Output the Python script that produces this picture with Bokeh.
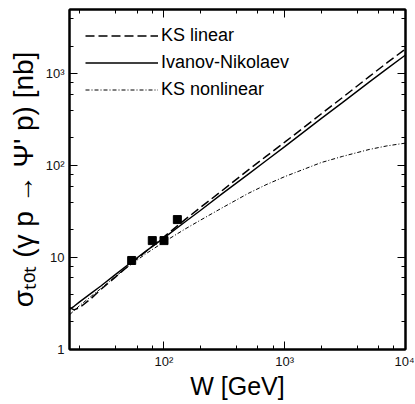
from bokeh.plotting import figure
from bokeh.models import LogAxis, Legend, LegendItem, Range1d, LogTicker, CustomJSTickFormatter
from bokeh.embed import file_html
from bokeh.resources import INLINE

# ---- data ----
W_curve = [16.6, 18, 20, 25, 30, 40, 50, 70, 100, 150, 200, 300, 500, 700,
           1000, 2000, 3000, 5000, 7000, 10000]
ks_linear = [2.85, 2.7, 2.85, 3.6, 4.5, 6.2, 8.0, 11.5, 16.8, 26, 35, 53, 90,
             126, 180, 365, 550, 930, 1310, 1860]
ivanov_nikolaev = [2.75, 2.95, 3.3, 4.1, 4.9, 6.6, 8.3, 11.6, 16.4, 24.5, 32.5,
                   49, 81, 113, 161, 325, 485, 810, 1130, 1600]
ks_nonlinear = [2.4, 2.65, 3.0, 3.8, 4.6, 6.3, 7.9, 10.9, 14.8, 20.5, 25.5,
                34.5, 50, 62, 76, 108, 126, 150, 164, 176]

W_data = [54, 80, 100, 129]
sigma_data = [9.3, 15.3, 15.3, 25.9]

x_ticks = [100, 1000, 10000]
x_tick_labels = ["10²", "10³", "10⁴"]
y_ticks = [1, 10, 100, 1000]
y_tick_labels = ["1", "10", "10²", "10³"]

series_names = ["KS linear", "Ivanov-Nikolaev", "KS nonlinear"]

FONT = "Liberation Sans"

p = figure(width=414, height=403, x_axis_type="log", y_axis_type="log",
           x_range=Range1d(16.5, 10000), y_range=Range1d(1, 5000),
           output_backend="svg", toolbar_location=None,
           min_border_left=69, min_border_right=9, min_border_top=9,
           min_border_bottom=54, background_fill_color="white",
           border_fill_color="white")
p.grid.visible = False
p.outline_line_color = "black"
p.outline_line_width = 2

r1 = p.line(W_curve, ks_linear, line_color="black", line_width=1.5, line_dash="9 4")
r2 = p.line(W_curve, ivanov_nikolaev, line_color="black", line_width=1.4)
r3 = p.line(W_curve, ks_nonlinear, line_color="black", line_width=1.0, line_dash="4 2 1 2")
p.scatter(W_data, sigma_data, marker="square", size=8, fill_color="black", line_color="black")

def style_axis(ax, show_labels=True):
    ax.axis_line_color = "black"
    ax.axis_line_width = 2
    ax.major_tick_in = 8
    ax.major_tick_out = 0
    ax.minor_tick_in = 4
    ax.minor_tick_out = 0
    ax.major_tick_line_color = "black"
    ax.minor_tick_line_color = "black"
    ax.major_tick_line_width = 1
    ax.minor_tick_line_width = 1
    if show_labels:
        ax.major_label_text_font = FONT
        ax.major_label_text_font_size = "13px"
        ax.major_label_text_color = "#111111"
        ax.major_label_standoff = 5
    else:
        ax.formatter = CustomJSTickFormatter(code="return ''")
        ax.major_label_text_font_size = "1px"
        ax.major_label_standoff = 0

xa = p.xaxis[0]
ya = p.yaxis[0]
style_axis(xa)
style_axis(ya)
xa.major_label_standoff = 4
xa.ticker = LogTicker(desired_num_ticks=3)
ya.ticker = LogTicker(desired_num_ticks=4)
xa.major_label_overrides = {t: s for t, s in zip(x_ticks, x_tick_labels)}
ya.major_label_overrides = {t: s for t, s in zip(y_ticks, y_tick_labels)}

xa.axis_label = "W [GeV]"
xa.axis_label_text_font = FONT
xa.axis_label_text_font_size = "25px"
xa.axis_label_text_font_style = "normal"
xa.axis_label_standoff = 0
xa.axis_label_text_color = "black"

ya.axis_label = "σₜₒₜ (γ p → Ψ' p) [nb]"
ya.axis_label_text_font = FONT
ya.axis_label_text_font_size = "28px"
ya.axis_label_text_font_style = "normal"
ya.axis_label_standoff = 4
ya.axis_label_text_color = "black"

top_ax = LogAxis(ticker=LogTicker(desired_num_ticks=3))
style_axis(top_ax, show_labels=False)
p.add_layout(top_ax, "above")
right_ax = LogAxis(ticker=LogTicker(desired_num_ticks=4))
style_axis(right_ax, show_labels=False)
p.add_layout(right_ax, "right")

legend = Legend(items=[LegendItem(label=series_names[0], renderers=[r1]),
                       LegendItem(label=series_names[1], renderers=[r2]),
                       LegendItem(label=series_names[2], renderers=[r3])],
                location=(16, 246), glyph_width=73, glyph_height=27,
                label_height=27, label_standoff=3, spacing=0, padding=0,
                margin=0, border_line_alpha=0, background_fill_alpha=0,
                label_text_font=FONT, label_text_font_size="18px",
                label_text_color="black")
p.add_layout(legend, "center")

open("out.html", "w").write(file_html(p, INLINE))
